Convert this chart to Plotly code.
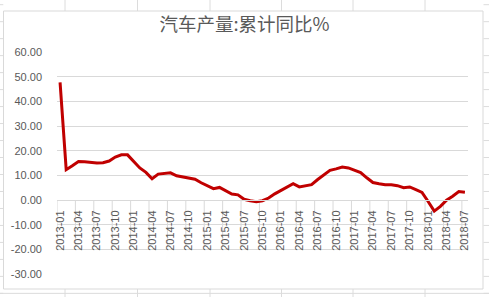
import plotly.graph_objects as go

# ---------------- data ----------------
months = [f"{y}-{m:02d}" for y in range(2013, 2019) for m in range(1, 13)][:67]

values = [
    47.7, 12.3, 13.9, 15.6, 15.5, 15.1, 15.0, 15.1, 15.8, 17.4, 18.3, 18.3,   # 2013
    15.8, 13.0, 11.2, 8.6, 10.5, 10.9, 11.0, 9.8, 9.4, 8.9, 8.4, 7.0,         # 2014
    5.8, 4.6, 5.1, 3.6, 2.4, 2.1, 0.3, -0.3, -0.7, -0.3, 0.8, 2.5,             # 2015
    3.8, 5.0, 6.6, 5.3, 5.7, 6.2, 8.3, 10.3, 12.0, 12.6, 13.4, 13.0,           # 2016
    12.1, 11.1, 9.0, 7.1, 6.6, 6.2, 6.2, 5.8, 5.0, 5.3, 4.2, 3.1,              # 2017
    -0.6, -4.5, -2.6, -0.1, 1.5, 3.4, 3.1,                                     # 2018
]

x_tick_labels = months[::3]
y_tick_vals = [-30, -20, -10, 0, 10, 20, 30, 40, 50, 60]
y_tick_text = ["-30.00", "-20.00", "-10.00", "0.00", "10.00", "20.00",
               "30.00", "40.00", "50.00", "60.00"]

title_text = "汽车产量:累计同比%"

# ---------------- layout geometry ----------------
W, H = 489, 297
L, R, T, B = 57, 21, 52, 23
PW, PH = W - L - R, H - T - B


def xp(px):
    return (px - L) / PW


def yp(py):
    return (H - B - py) / PH


grey = "#595959"
grid = "#d9d9d9"
sheet = "#dcdcdc"
tick_font = dict(family="Liberation Sans, Arial, sans-serif", size=11, color=grey)

fig = go.Figure()
fig.add_trace(go.Scatter(
    x=months, y=values, mode="lines",
    line=dict(color="#C00000", width=3),
    showlegend=False,
))

zero_pos = (0 - y_tick_vals[0]) / (y_tick_vals[-1] - y_tick_vals[0])
zero_px = H - B - zero_pos * PH

shapes = []
# spreadsheet gridlines around the chart object
rows = [4.7 + 16.98 * k for k in range(18)]
cols = [65, 137.5, 210, 281.5, 353, 425]
for ry in rows:
    shapes.append(dict(type="line", xref="paper", yref="paper",
                       x0=xp(0), x1=xp(3.3), y0=yp(ry), y1=yp(ry),
                       line=dict(color=sheet, width=1), layer="below"))
    shapes.append(dict(type="line", xref="paper", yref="paper",
                       x0=xp(483.5), x1=xp(489), y0=yp(ry), y1=yp(ry),
                       line=dict(color=sheet, width=1), layer="below"))
    if ry > 289:
        shapes.append(dict(type="line", xref="paper", yref="paper",
                           x0=xp(0), x1=xp(489), y0=yp(ry), y1=yp(ry),
                           line=dict(color=sheet, width=1), layer="below"))
for cx in cols:
    shapes.append(dict(type="line", xref="paper", yref="paper",
                       x0=xp(cx), x1=xp(cx), y0=yp(0), y1=yp(11),
                       line=dict(color=sheet, width=1), layer="below"))
    shapes.append(dict(type="line", xref="paper", yref="paper",
                       x0=xp(cx), x1=xp(cx), y0=yp(289), y1=yp(297),
                       line=dict(color=sheet, width=1), layer="below"))
# chart area border
shapes.append(dict(type="rect", xref="paper", yref="paper",
                   x0=xp(3.5), x1=xp(483), y0=yp(289), y1=yp(11),
                   line=dict(color=grid, width=1), fillcolor="white", layer="below"))
# label separators at the left boundary of each labelled category
for i in range(0, len(months), 3):
    shapes.append(dict(type="line", xref="x", yref="paper",
                       x0=i - 0.5, x1=i - 0.5,
                       y0=zero_pos, y1=yp(zero_px + 46),
                       line=dict(color=grid, width=1), layer="below"))

fig.update_layout(
    width=W, height=H,
    margin=dict(l=L, r=R, t=T, b=B, pad=0),
    paper_bgcolor="white", plot_bgcolor="rgba(0,0,0,0)",
    title=dict(text=title_text, x=0.5, xref="container", xanchor="center",
               y=1 - 25 / H, yref="container", yanchor="middle",
               font=dict(family="Noto Sans CJK SC", size=18.5, color=grey)),
    shapes=shapes,
    xaxis=dict(
        type="category", range=[-0.5, len(months) - 0.5],
        anchor="free", position=zero_pos,
        showline=True, linecolor=grid, linewidth=1,
        showgrid=False, zeroline=False,
        tickmode="array", tickvals=x_tick_labels, ticktext=x_tick_labels,
        ticks="", tickangle=-90, tickfont=tick_font, ticklabelstandoff=5,
    ),
    yaxis=dict(
        range=[y_tick_vals[0], y_tick_vals[-1]],
        tickmode="array", tickvals=y_tick_vals, ticktext=y_tick_text,
        showgrid=True, gridcolor=grid, gridwidth=1,
        zeroline=False, showline=False, ticks="",
        tickfont=tick_font, ticklabelstandoff=14,
    ),
)

fig.write_html("out.html")
